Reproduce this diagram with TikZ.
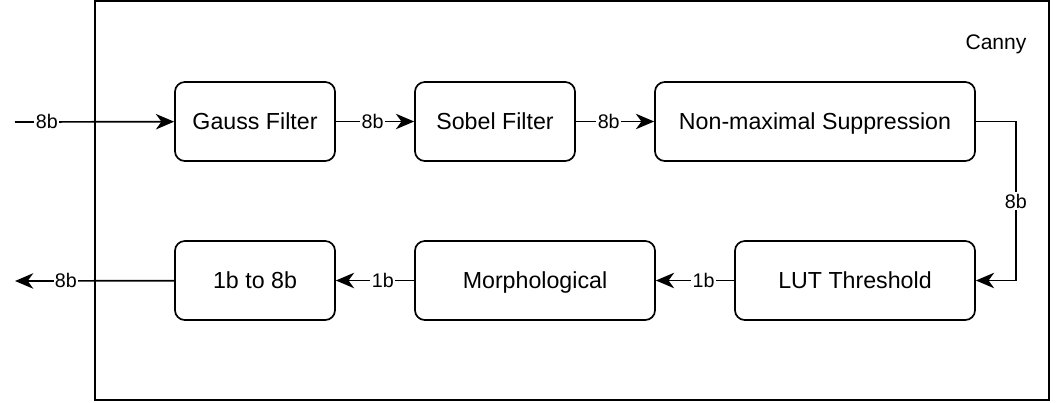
\documentclass[tikz,border=0pt]{standalone}
\usepackage{fontspec}
\setmainfont{Liberation Sans}
\usetikzlibrary{arrows.meta}

\begin{document}
\begin{tikzpicture}[x=0.025cm, y=-0.025cm]
    % Define styles
    \tikzstyle{block} = [rectangle, rounded corners=7pt, draw=black, line width=1.2pt, minimum height=1.975cm, align=center, text height=11.8pt, text depth=0pt, font=\fontsize{16.5}{19}\selectfont]
    \tikzstyle{narrow} = [block, minimum width=4cm]
    \tikzstyle{mid} = [block, minimum width=6cm]
    \tikzstyle{wide} = [block, minimum width=8cm]
    \tikzstyle{arr} = [line width=1.2pt, -{Stealth[length=13pt, width=11pt, inset=4pt]}]
    \tikzstyle{lbl} = [fill=white, inner sep=1pt, font=\fontsize{14}{16}\selectfont]

    \useasboundingbox (0,0) rectangle (1056,402);

    % Canny frame
    \draw[line width=1.2pt] (95,1) rectangle (1049,400);
    \node (canny) at (996,44) {\fontsize{15}{17}\selectfont Canny};

    % Top row
    \node[narrow] (gauss) at (255,121.5) {Gauss Filter};
    \node[narrow] (sobel) at (495,121.5) {Sobel Filter};
    \node[wide] (nms) at (815,121.5) {Non-maximal Suppression};

    % Bottom row
    \node[mid] (lut) at (855,280.5) {LUT Threshold};
    \node[mid] (morph) at (535,280.5) {Morphological};
    \node[narrow] (conv) at (255,280.5) {1b to 8b};

    % Free ends
    \coordinate (in) at (15,122);
    \coordinate (out) at (15,281);

    % Connectors
    \draw[arr] (in) -- node[lbl, pos=0.2] {8b} (gauss);
    \draw[arr] (gauss) -- node[lbl, pos=0.47] {8b} (sobel);
    \draw[arr] (sobel) -- node[lbl, pos=0.42] {8b} (nms);
    \draw[arr] (nms.east) -- ++(40,0) -- node[lbl] {8b} ++(0,159) -- (lut.east);
    \draw[arr] (lut) -- node[lbl, pos=0.39] {1b} (morph);
    \draw[arr] (morph) -- node[lbl, pos=0.4] {1b} (conv);
    \draw[arr] (conv) -- node[lbl, pos=0.68] {8b} (out);

\end{tikzpicture}
\end{document}
